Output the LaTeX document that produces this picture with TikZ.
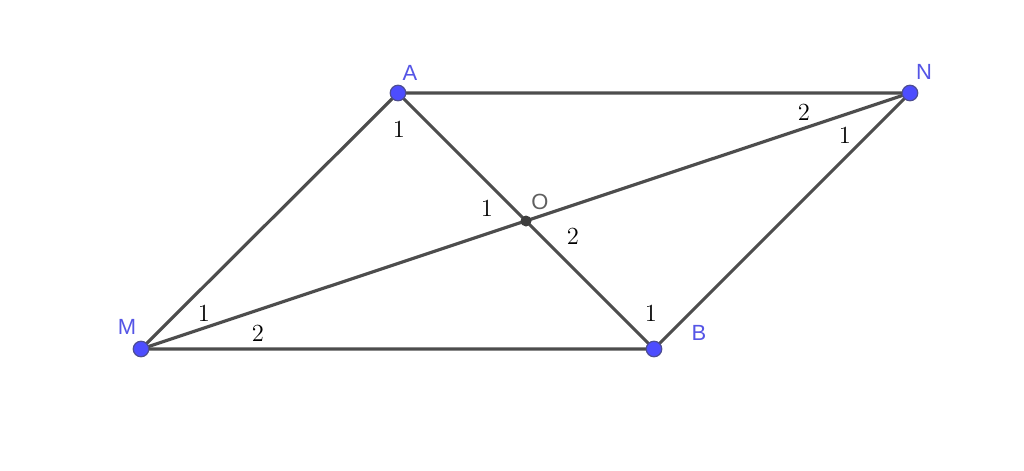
\documentclass[tikz,border=0pt]{standalone}
\usepackage{fontspec}
\newfontfamily\ptfont{Liberation Sans}
\definecolor{segcol}{RGB}{77,77,77}
\definecolor{ptblue}{RGB}{77,77,255}
\definecolor{ptname}{RGB}{85,85,230}
\tikzset{
    seg/.style={segcol, line width=1.8pt},
    ptdot/.style={circle, fill=ptblue, draw=segcol!60!ptblue, line width=0.7pt, inner sep=0pt, minimum size=0.31cm},
    ptname/.style={text=ptname, font=\ptfont\fontsize{12.5}{12.5}\selectfont, inner sep=0pt},
    anglab/.style={font=\fontsize{14}{14}\selectfont, inner sep=0pt}
}
\begin{document}
\begin{tikzpicture}
\useasboundingbox[fill=white] (0,0) rectangle (20.48,9.4);

% points
    \coordinate (A) at (7.96,7.54);
    \coordinate (N) at (18.2,7.54);
    \coordinate (M) at (2.82,2.42);
    \coordinate (B) at (13.08,2.42);
    \coordinate (O) at (10.52,4.98);

% sides
    \draw[seg] (M) -- (A) -- (N) -- (B) -- cycle;
% diagonals
    \draw[seg] (A) -- (B);
    \draw[seg] (M) -- (N);

% dots
    \node[ptdot] (dA) at (A) {};
    \node[ptdot] (dN) at (N) {};
    \node[ptdot] (dM) at (M) {};
    \node[ptdot] (dB) at (B) {};
    \node[circle, fill=segcol!80!black, inner sep=0pt, minimum size=0.22cm] (dO) at (O) {};

% names
    \node[ptname] (nA) at (8.2,7.94) {A};
    \node[ptname] (nN) at (18.48,7.96) {N};
    \node[ptname] (nM) at (2.54,2.86) {M};
    \node[ptname] (nB) at (13.98,2.74) {B};
    \node[ptname, text=segcol!90] (nO) at (10.8,5.36) {O};

% angle labels
    \node[anglab] (a1) at (7.98,6.82) {1};
    \node[anglab] (n2) at (16.08,7.16) {2};
    \node[anglab] (n1) at (16.9,6.7) {1};
    \node[anglab] (o1) at (9.74,5.24) {1};
    \node[anglab] (o2) at (11.46,4.68) {2};
    \node[anglab] (m1) at (4.08,3.14) {1};
    \node[anglab] (m2) at (5.16,2.74) {2};
    \node[anglab] (b1) at (13.02,3.14) {1};

\end{tikzpicture}
\end{document}
